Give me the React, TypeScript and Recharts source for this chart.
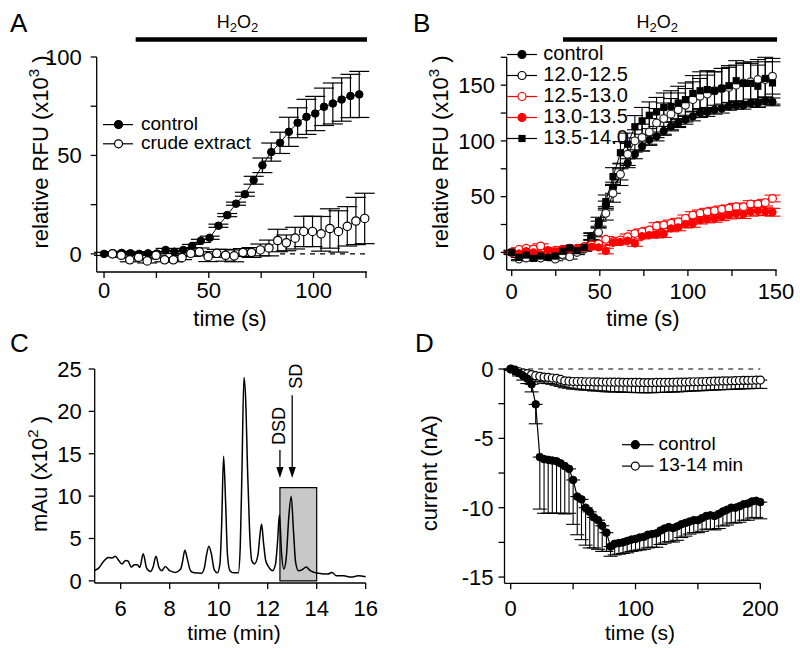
import React from "react";
import { ComposedChart, Line, XAxis, YAxis, ErrorBar, ReferenceLine, ReferenceArea, Legend } from "recharts";

const FONT = "'Liberation Sans', Arial, Helvetica, sans-serif";
const RED = "#ff0000";

// ---------- A: RFU, control vs crude extract
const aCtrlTime = [0, 4.2, 8.4, 12.6, 16.8, 21, 25.2, 29.4, 33.6, 37.8, 42, 46.2, 50.4, 54.6, 58.8, 63, 67.2, 71.4, 75.6, 79.8, 84, 88.2, 92.4, 96.6, 100.8, 105, 109.2, 113.4, 117.6, 121.8];
const aCtrlRfu = [0, 0.3, 0.5, 0.3, 0, 0.3, 0.2, 2, 1, 2, 4, 6.6, 8.2, 14.3, 19.7, 25.5, 30.3, 37.4, 45, 51.7, 56.4, 62, 66.6, 69.6, 71.3, 74.7, 76.4, 78.4, 80.2, 81];
const aCtrlSem = [0.8, 0.8, 0.8, 0.8, 0.8, 0.8, 0.8, 0.8, 0.8, 0.8, 0.8, 0.8, 0.8, 0.8, 0.8, 0.8, 1, 2, 3.7, 4.6, 5.4, 7.4, 7.6, 8.9, 8.7, 9.5, 10.4, 11, 11, 11.7];
const aCrudeTime = [4, 8.2, 12.3, 16.5, 20.6, 24.8, 28.9, 33.1, 37.2, 41.4, 45.5, 49.7, 53.8, 58, 62.1, 66.3, 70.4, 74.6, 78.7, 82.9, 87, 91.2, 95.3, 99.5, 103.6, 107.8, 111.9, 116.1, 120.2, 124.4];
const aCrudeRfu = [0, -0.7, -3, -1.7, -3.6, -0.7, -3, -3, -1.9, 0.3, 1, -1.4, 0.3, -0.7, -1, 0.7, 0.7, 2, 3, 6.8, 5.6, 8, 11.4, 11.4, 10.2, 12.9, 11.4, 14, 16.7, 18];
const aCrudeSem = [1, 1, 1, 1, 1, 1, 1, 1, 1, 1.5, 2, 2.5, 2, 3, 3, 2, 2.5, 3, 4, 5.7, 4, 5.5, 7.7, 7.7, 8.8, 10, 10.5, 10, 12, 12.8];
const aXTicks = [0, 25, 50, 75, 100, 125];
const aXLabels = [0, 50, 100];
const aYTicks = [0, 25, 50, 75, 100];
const aYLabels = [0, 50, 100];
const aH2O2 = [15.1, 125.5];
const aH2O2Level = 108.9;

// ---------- B: RFU for HPLC fractions
const bTime = [0, 4.1, 8.2, 12.3, 16.4, 20.6, 24.7, 28.8, 32.9, 37, 41.1, 45.2, 49.3, 53.4, 57.5, 61.7, 65.8, 69.9, 74, 78.1, 82.2, 86.3, 90.4, 94.5, 98.6, 102.8, 106.9, 111, 115.1, 119.2, 123.3, 127.4, 131.5, 135.6, 139.7, 143.9, 148];
const bControl = [0, -2, -3, -1, -4, -2, -3, -1, 2, 2, 4, 13, 25, 42, 58, 70, 80, 88, 95, 101, 104, 109, 113, 116, 119, 122, 125, 126, 128, 129, 131, 132, 132, 134, 134, 136, 135];
const bControlSem = [1, 1, 1, 1, 1, 1, 1, 1, 1.5, 1.5, 2, 2, 3, 4, 5, 5, 4, 4, 4, 4, 4, 4, 4, 4, 4, 4, 4, 4, 4, 4, 3.5, 3.5, 3.5, 3.5, 3.5, 3.5, 3.5];
const bF120 = [0, -6, -5, -4, -5, -3, -6, -2, -4, 0, 3, 14, 18, 35, 53, 70, 88, 100, 103, 108, 116, 120, 124, 128, 132, 137, 140, 142, 145, 147, 148, 150, 152, 153, 155, 155, 158];
const bF120Sem = [1.5, 1.5, 1.5, 1.5, 1.5, 1.5, 1.5, 1.5, 2, 2, 2, 3, 4, 6, 8, 10, 10, 10, 12, 12, 13, 14, 14, 15, 15, 16, 16, 17, 17, 18, 18, 18, 18, 18, 18, 16, 16];
const bF125 = [0, 2.7, 3.6, 3, 5.7, 0.6, 2, 2.7, 3.6, 3.6, 5, 6.6, 7.5, 11.7, 9.6, 11, 14, 17, 18.5, 20, 23.6, 24.5, 26, 27.5, 30.5, 33.5, 35, 36.5, 37.4, 38.6, 39.5, 41, 41, 43.4, 43.4, 44.6, 48.4];
const bF125Sem = [1.5, 1.5, 2, 2, 2, 2, 2, 2, 2, 2, 2, 2, 2, 2.5, 2.5, 2.5, 2.5, 2.5, 2.5, 2.5, 3, 3, 3, 3, 3, 3, 3, 3, 3, 3, 3, 3, 3, 3, 3, 3, 3];
const bF130 = [0, -1, 1, 0, -2, 2, 1, 3, 3, 3, 4, 5, 4.5, 1.2, 8.7, 9.3, 10.5, 8, 14.6, 15.5, 16, 16.4, 21.5, 22.4, 25.4, 26, 29, 30, 30.5, 32, 33.5, 35, 34.4, 36.5, 37.4, 36.5, 36];
const bF130Sem = [1.5, 1.5, 2, 2, 2, 2, 2, 2, 2, 2, 2, 2, 2, 2.5, 2.5, 2.5, 2.5, 2.5, 2.5, 2.5, 3, 3, 3, 3, 3.5, 3.5, 3.5, 3.5, 3.5, 3.5, 3.5, 4, 4, 4, 4, 3.5, 3.5];
const bF135 = [0, -4.5, -2.4, -5.4, -3.3, -4.5, -3.3, 1, 4, 1.5, 4.5, 14.6, 27.5, 45.5, 68, 89.4, 97, 112.7, 118, 123, 126, 130, 131, 134, 137, 142.6, 145, 146, 145, 147, 149.5, 154, 151.6, 151.6, 149, 156, 152];
const bF135Sem = [2, 2, 2, 2, 2, 2, 2, 2, 2, 2, 2, 3, 4, 6, 8, 10, 10, 10, 12, 12, 13, 13, 14, 15, 15, 16, 17, 17, 17, 18, 18, 18, 18, 18, 19, 19, 19];
const bXTicks = [0, 25, 50, 75, 100, 125, 150];
const bXLabels = [0, 50, 100, 150];
const bYTicks = [0, 25, 50, 75, 100, 125, 150, 175];
const bYLabels = [0, 50, 100, 150];
const bH2O2 = [29.1, 150.6];
const bH2O2Level = 190.9;

// ---------- C: chromatogram
const cTime = [4.95, 5.1, 5.3, 5.5, 5.65, 5.78, 5.92, 6.05, 6.2, 6.3, 6.43, 6.57, 6.68, 6.78, 6.92, 7.06, 7.22, 7.32, 7.44, 7.56, 7.68, 7.82, 8, 8.23, 8.45, 8.52, 8.62, 8.72, 8.85, 9, 9.3, 9.42, 9.5, 9.6, 9.7, 9.82, 9.95, 10.05, 10.12, 10.2, 10.28, 10.36, 10.46, 10.6, 10.8, 10.88, 10.95, 11.03, 11.1, 11.18, 11.26, 11.35, 11.46, 11.6, 11.67, 11.75, 11.83, 11.92, 12.05, 12.2, 12.32, 12.4, 12.48, 12.56, 12.66, 12.76, 12.86, 12.96, 13.05, 13.14, 13.25, 13.4, 13.57, 13.74, 13.9, 14.2, 14.45, 14.63, 14.8, 15.1, 15.4, 15.7, 16];
const cAbs = [1.25, 1.5, 2.3, 2.75, 2.7, 2.9, 2.4, 2, 2.4, 2.35, 1.65, 1.9, 1.9, 1.6, 3.2, 1.5, 1.1, 1.6, 2.9, 1.6, 1.2, 1.7, 1.2, 1, 1.4, 2.2, 3.6, 2.6, 1.2, 0.95, 0.9, 1.6, 3, 4.1, 3.2, 1.3, 0.95, 2, 6.5, 14.7, 9.5, 3, 1.2, 0.95, 0.95, 4, 13, 24, 21.5, 13, 6, 2.4, 2, 3, 5, 6.7, 4.5, 2.4, 1.6, 1.2, 2, 4.5, 7.8, 3.5, 1.4, 2.8, 7.5, 10, 6, 2.2, 1.2, 1.3, 1.65, 1.2, 1, 0.85, 0.8, 1, 0.6, 0.6, 0.45, 0.6, 0.5];
const cXTicks = [6, 8, 10, 12, 14, 16];
const cYTicks = [0, 5, 10, 15, 20, 25];
const cFraction = [12.5, 14];
const cFractionTop = 11;
const cArrows = [
  { name: "DSD", x: 12.5, from: 15.45, to: 12.15, shift: 5, gap: 24 },
  { name: "SD", x: 13, from: 21.9, to: 12.15, shift: 10, gap: 19 },
];

// ---------- D: current
const dTime = [0, 3.3, 6.7, 10, 13.3, 16.7, 20, 23.3, 26.7, 30, 33.3, 36.7, 40, 43.3, 46.7, 50, 53.3, 56.7, 60, 63.3, 66.7, 70, 73.3, 76.7, 80, 83.3, 86.7, 90, 93.3, 96.7, 100, 103.3, 106.7, 110, 113.3, 116.7, 120, 123.3, 126.7, 130, 133.3, 136.7, 140, 143.3, 146.7, 150, 153.3, 156.7, 160, 163.3, 166.7, 170, 173.3, 176.7, 180, 183.3, 186.7, 190, 193.3, 196.7, 200];
const dControl = [0, -0.1, -0.3, -0.5, -0.7, -1.1, -2.55, -6.35, -6.5, -6.55, -6.6, -6.65, -6.8, -7, -7.2, -8, -9.2, -9.4, -10, -10.3, -10.7, -10.9, -11.3, -11.8, -12.8,
  -12.6, -12.55, -12.5, -12.4, -12.3, -12.25, -12.15, -12.1, -11.95, -11.9, -11.85, -11.65, -11.5, -11.4, -11.47, -11.35, -11.2, -11.1, -11, -10.9, -10.9, -10.75, -10.6, -10.55, -10.6, -10.45, -10.27, -10.15, -10, -10, -9.9, -9.75, -9.7, -9.55, -9.5, -9.6];
const dControlSem = [0.05, 0.1, 0.2, 0.3, 0.35, 0.55, 1.4, 3.75, 3.9, 3.85, 3.8, 3.75, 3.6, 3.45, 3.2, 3.2, 2.75, 2.9, 2.7, 2.6, 2.2, 2.1, 1.85, 1.35, 0.7,
  0.8, 0.8, 0.8, 0.85, 0.85, 0.85, 0.9, 0.9, 0.95, 0.95, 1, 1, 1.05, 1.05, 1, 1, 0.95, 0.95, 0.9, 0.9, 0.9, 0.95, 0.95, 1, 1, 1.05, 1.05, 1.1, 1.1, 1.1, 1.15, 1.15, 1.2, 1.2, 1.2, 1.2];
const dFraction = [0, -0.08, -0.2, -0.28, -0.33, -0.4, -0.48, -0.53, -0.58, -0.6, -0.65, -0.67, -0.75, -0.85, -0.88, -0.9, -0.9,
  -0.9, -0.92, -0.92, -0.93, -0.93, -0.94, -0.94, -0.95, -0.95, -0.95, -0.96, -0.96, -0.97, -0.97, -0.97, -0.98, -0.98, -0.98, -0.97, -0.97, -0.97, -0.96, -0.96, -0.95,
  -0.95, -0.94, -0.93, -0.92, -0.92, -0.91, -0.9, -0.89, -0.88, -0.87, -0.86, -0.86, -0.85, -0.84, -0.83, -0.82, -0.82, -0.81, -0.8, -0.8];
const dFractionSem = [0.1, 0.15, 0.2, 0.25, 0.3, 0.35, 0.4, 0.4, 0.45, 0.45, 0.45, 0.5, 0.5,
  0.5, 0.5, 0.55, 0.55, 0.6, 0.6, 0.6, 0.65, 0.65, 0.65, 0.7, 0.7, 0.7, 0.7, 0.72, 0.72, 0.72, 0.73, 0.73, 0.73, 0.73, 0.73, 0.72, 0.72, 0.72, 0.7, 0.7, 0.7, 0.68, 0.68,
  0.66, 0.66, 0.65, 0.65, 0.64, 0.64, 0.63, 0.63, 0.62, 0.62, 0.62, 0.61, 0.61, 0.6, 0.6, 0.6, 0.6, 0.6];
const dXTicks = [0, 50, 100, 150, 200];
const dXLabels = [0, 100, 200];
const dYTicks = [-15, -12.5, -10, -7.5, -5, -2.5, 0];
const dYLabels = [-15, -10, -5, 0];

// tables for recharts
const sym = (xs: number[], ys: number[], es: number[]) => xs.map((x, i) => ({ x, y: ys[i], e: es[i] }));
const down = (xs: number[], ys: number[], es: number[]) => xs.map((x, i) => ({ x, y: ys[i], e: [es[i], 0] }));

const aCtrl = sym(aCtrlTime, aCtrlRfu, aCtrlSem);
const aCrude = sym(aCrudeTime, aCrudeRfu, aCrudeSem);
const bCtrlData = sym(bTime, bControl, bControlSem);
const b120Data = sym(bTime, bF120, bF120Sem);
const b125Data = sym(bTime, bF125, bF125Sem);
const b130Data = sym(bTime, bF130, bF130Sem);
const b135Data = sym(bTime, bF135, bF135Sem);
const cTrace = cTime.map((x, i) => ({ x, y: cAbs[i] }));
const dCtrlData = down(dTime, dControl, dControlSem);
const dFracData = down(dTime, dFraction, dFractionSem);

const only = (labels: number[]) => (v: number) => (labels.includes(v) ? String(v) : "");

const ax = {
  stroke: "#000",
  tick: { fill: "#000", fontSize: 22, fontFamily: FONT },
  tickLine: { stroke: "#000", strokeWidth: 1.3 },
  axisLine: { stroke: "#000", strokeWidth: 1.3 },
  tickSize: 6,
  interval: 0 as const,
};

const filled = (c: string, r: number) => ({ r, fill: c, stroke: c, strokeWidth: 1 });
const open = (c: string, r: number) => ({ r, fill: "#fff", stroke: c, strokeWidth: 1.2 });
const square = (p: any) => (
  <rect key={`sq-${p.index}`} x={p.cx - 3.6} y={p.cy - 3.6} width={7.2} height={7.2} fill="#000" />
);

const h2o2Shape = (p: any) => {
  const tx = p.x1 + (p.x2 - p.x1) * 0.44;
  return (
    <g>
      <line x1={p.x1} y1={p.y1} x2={p.x2} y2={p.y2} stroke="#000" strokeWidth={4.5} />
      <text x={tx} y={p.y1 - 11.5} textAnchor="middle" fontSize={18} fontFamily={FONT} fill="#000">
        H<tspan fontSize={13} dy={4}>2</tspan>
        <tspan dy={-4}>O</tspan>
        <tspan fontSize={13} dy={4}>2</tspan>
      </text>
    </g>
  );
};

const arrowShape = (label: string, shift: number, gap: number) => (p: any) => {
  const tx = p.x1 + shift;
  const ty = p.y1 - gap;
  return (
    <g>
      <line x1={p.x1} y1={p.y1} x2={p.x2} y2={p.y2 - 10} stroke="#000" strokeWidth={1.3} />
      <polygon points={`${p.x2},${p.y2} ${p.x2 - 3.6},${p.y2 - 11} ${p.x2 + 3.6},${p.y2 - 11}`} fill="#000" />
      <text x={tx} y={ty} transform={`rotate(-90 ${tx} ${ty})`} textAnchor="middle" fontSize={18} fontFamily={FONT} fill="#000">
        {label}
      </text>
    </g>
  );
};

type Key = { label: string; color: string; kind: "dot" | "ring" | "square" };

function LegendKeys({ keys, rowH, lineW, markX, textX, fontSize }: { keys: Key[]; rowH: number; lineW: number; markX: number; textX: number; fontSize: number }) {
  return (
    <svg width={textX + 130} height={keys.length * rowH} style={{ display: "block", overflow: "visible" }}>
      {keys.map((k, i) => {
        const cy = i * rowH + rowH / 2;
        return (
          <g key={k.label}>
            <line x1={0} x2={lineW} y1={cy} y2={cy} stroke={k.color} strokeWidth={1.2} />
            {k.kind === "square" ? (
              <rect x={markX - 3.6} y={cy - 3.6} width={7.2} height={7.2} fill={k.color} />
            ) : (
              <circle cx={markX} cy={cy} r={4} fill={k.kind === "dot" ? k.color : "#fff"} stroke={k.color} strokeWidth={1.2} />
            )}
            <text x={textX} y={cy + fontSize * 0.27} fontSize={fontSize} fontFamily={FONT} fill="#000">
              {k.label}
            </text>
          </g>
        );
      })}
    </svg>
  );
}

function Titles({ letter, lx, ly, yTitle, yx, yy, xTitle, xx, xy, xSize = 22 }: any) {
  return (
    <svg width={400} height={326} style={{ position: "absolute", left: 0, top: 0, overflow: "visible", pointerEvents: "none" }}>
      <text x={lx} y={ly} fontSize={26} fontFamily={FONT} fill="#000">{letter}</text>
      <text x={yx} y={yy} transform={`rotate(-90 ${yx} ${yy})`} textAnchor="middle" fontSize={22} fontFamily={FONT} fill="#000">
        {yTitle}
      </text>
      <text x={xx} y={xy} textAnchor="middle" fontSize={xSize} fontFamily={FONT} fill="#000">{xTitle}</text>
    </svg>
  );
}

const rfuTitle = (
  <>
    relative RFU (x10<tspan fontSize={15} dy={-9}>3</tspan>
    <tspan dy={9}> )</tspan>
  </>
);

function PanelA() {
  return (
    <div style={{ position: "absolute", left: 0, top: 0, width: 400, height: 325 }}>
      <ComposedChart width={400} height={325} margin={{ top: 57, right: 33, bottom: 23, left: 56.7 }}>
        <XAxis type="number" dataKey="x" domain={[-3.5, 125.5]} ticks={aXTicks} tickFormatter={only(aXLabels)} height={30} tickMargin={4} {...ax} />
        <YAxis type="number" domain={[-9.2, 100]} ticks={aYTicks} tickFormatter={only(aYLabels)} width={40} tickMargin={9} {...ax} />
        <ReferenceLine segment={[{ x: 84, y: 0 }, { x: 125, y: 0 }]} stroke="#000" strokeWidth={1.2} strokeDasharray="5 5" ifOverflow="visible" />
        <ReferenceLine segment={[{ x: aH2O2[0], y: aH2O2Level }, { x: aH2O2[1], y: aH2O2Level }]} ifOverflow="visible" shape={h2o2Shape} />
        <Line data={aCtrl} dataKey="y" type="linear" stroke="#000" strokeWidth={1} dot={filled("#000", 3.8)} activeDot={false} isAnimationActive={false}>
          <ErrorBar dataKey="e" width={10} stroke="#000" strokeWidth={1.2} isAnimationActive={false} />
        </Line>
        <Line data={aCrude} dataKey="y" type="linear" stroke="#000" strokeWidth={1} dot={open("#000", 4.2)} activeDot={false} isAnimationActive={false}>
          <ErrorBar dataKey="e" width={10} stroke="#000" strokeWidth={1.2} isAnimationActive={false} />
        </Line>
        <Legend
          layout="vertical"
          align="center"
          verticalAlign="middle"
          wrapperStyle={{ left: 103, top: 114.9, width: 200, height: 40 }}
          content={() => (
            <LegendKeys
              keys={[
                { label: "control", color: "#000", kind: "dot" },
                { label: "crude extract", color: "#000", kind: "ring" },
              ]}
              rowH={19.2}
              lineW={30}
              markX={15.5}
              textX={38}
              fontSize={19}
            />
          )}
        />
      </ComposedChart>
      <Titles letter="A" lx={10} ly={31.7} yTitle={rfuTitle} yx={48.2} yy={152} xTitle="time (s)" xx={230} xy={326} />
    </div>
  );
}

function PanelB() {
  return (
    <div style={{ position: "absolute", left: 400, top: 0, width: 400, height: 325 }}>
      <ComposedChart width={400} height={325} margin={{ top: 57.3, right: 23.3, bottom: 25, left: 66.7 }}>
        <XAxis type="number" dataKey="x" domain={[-2.85, 150.4]} ticks={bXTicks} tickFormatter={only(bXLabels)} height={30} tickMargin={7.7} {...ax} />
        <YAxis type="number" domain={[-15.8, 175]} ticks={bYTicks} tickFormatter={only(bYLabels)} width={40} tickMargin={5.7} {...ax} />
        <ReferenceLine segment={[{ x: bH2O2[0], y: bH2O2Level }, { x: bH2O2[1], y: bH2O2Level }]} ifOverflow="visible" shape={h2o2Shape} />
        <Line data={bCtrlData} dataKey="y" type="linear" stroke="#000" strokeWidth={1} dot={filled("#000", 3.7)} activeDot={false} isAnimationActive={false}>
          <ErrorBar dataKey="e" width={8} stroke="#000" strokeWidth={1.1} isAnimationActive={false} />
        </Line>
        <Line data={b120Data} dataKey="y" type="linear" stroke="#000" strokeWidth={1} dot={open("#222", 3.9)} activeDot={false} isAnimationActive={false}>
          <ErrorBar dataKey="e" width={8} stroke="#000" strokeWidth={1.1} isAnimationActive={false} />
        </Line>
        <Line data={b125Data} dataKey="y" type="linear" stroke={RED} strokeWidth={1} dot={open(RED, 3.9)} activeDot={false} isAnimationActive={false}>
          <ErrorBar dataKey="e" width={8} stroke={RED} strokeWidth={1.1} isAnimationActive={false} />
        </Line>
        <Line data={b130Data} dataKey="y" type="linear" stroke={RED} strokeWidth={1} dot={filled(RED, 3.7)} activeDot={false} isAnimationActive={false}>
          <ErrorBar dataKey="e" width={8} stroke={RED} strokeWidth={1.1} isAnimationActive={false} />
        </Line>
        <Line data={b135Data} dataKey="y" type="linear" stroke="#000" strokeWidth={1} dot={square} activeDot={false} isAnimationActive={false}>
          <ErrorBar dataKey="e" width={8} stroke="#000" strokeWidth={1.1} isAnimationActive={false} />
        </Line>
        <Legend
          layout="vertical"
          align="center"
          verticalAlign="middle"
          wrapperStyle={{ left: 106.7, top: 43.5, width: 200, height: 105 }}
          content={() => (
            <LegendKeys
              keys={[
                { label: "control", color: "#000", kind: "dot" },
                { label: "12.0-12.5", color: "#000", kind: "ring" },
                { label: "12.5-13.0", color: RED, kind: "ring" },
                { label: "13.0-13.5", color: RED, kind: "dot" },
                { label: "13.5-14.0", color: "#000", kind: "square" },
              ]}
              rowH={21}
              lineW={30}
              markX={15}
              textX={36.3}
              fontSize={20}
            />
          )}
        />
      </ComposedChart>
      <Titles letter="B" lx={13} ly={31.7} yTitle={rfuTitle} yx={48.2} yy={152} xTitle="time (s)" xx={243} xy={326} />
    </div>
  );
}

function PanelC() {
  return (
    <div style={{ position: "absolute", left: 0, top: 325, width: 400, height: 326 }}>
      <ComposedChart width={400} height={326} margin={{ top: 44, right: 34.3, bottom: 38, left: 54.7 }}>
        <XAxis type="number" dataKey="x" domain={[4.94, 16]} ticks={cXTicks} height={30} tickMargin={11} {...ax} />
        <YAxis type="number" domain={[-0.25, 25]} ticks={cYTicks} width={40} tickMargin={7} {...ax} />
        <ReferenceArea x1={cFraction[0]} x2={cFraction[1]} y1={0} y2={cFractionTop} fill="#c8c8c8" fillOpacity={1} stroke="#000" strokeWidth={1.2} />
        <Line data={cTrace} dataKey="y" type="monotone" stroke="#000" strokeWidth={1.5} dot={false} activeDot={false} isAnimationActive={false} />
        {cArrows.map((a) => (
          <ReferenceLine
            key={a.name}
            segment={[{ x: a.x, y: a.from }, { x: a.x, y: a.to }]}
            ifOverflow="visible"
            shape={arrowShape(a.name, a.shift, a.gap)}
          />
        ))}
      </ComposedChart>
      <Titles
        letter="C"
        lx={10}
        ly={26.7}
        yTitle={
          <>
            mAu (x10<tspan fontSize={15} dy={-9}>2</tspan>
            <tspan dy={9}> )</tspan>
          </>
        }
        yx={46.7}
        yy={149}
        xTitle="time (min)"
        xx={234}
        xy={314.5}
        xSize={21}
      />
    </div>
  );
}

function PanelD() {
  return (
    <div style={{ position: "absolute", left: 400, top: 325, width: 400, height: 326 }}>
      <ComposedChart width={400} height={326} margin={{ top: 44, right: 39.7, bottom: 37.7, left: 64.5 }}>
        <XAxis type="number" dataKey="x" domain={[-5, 200]} ticks={dXTicks} tickFormatter={only(dXLabels)} height={30} tickMargin={11.5} {...ax} />
        <YAxis type="number" domain={[-15.45, 0]} ticks={dYTicks} tickFormatter={only(dYLabels)} width={40} tickMargin={5} {...ax} />
        <ReferenceLine segment={[{ x: 14, y: 0 }, { x: 200, y: 0 }]} stroke="#000" strokeWidth={1.2} strokeDasharray="5 5" ifOverflow="visible" />
        <Line data={dFracData} dataKey="y" type="linear" stroke="#000" strokeWidth={1} dot={open("#000", 4)} activeDot={false} isAnimationActive={false}>
          <ErrorBar dataKey="e" width={7} stroke="#000" strokeWidth={1.1} isAnimationActive={false} />
        </Line>
        <Line data={dCtrlData} dataKey="y" type="linear" stroke="#000" strokeWidth={1.2} dot={filled("#000", 3.8)} activeDot={false} isAnimationActive={false}>
          <ErrorBar dataKey="e" width={7} stroke="#000" strokeWidth={1.1} isAnimationActive={false} />
        </Line>
        <Legend
          layout="vertical"
          align="center"
          verticalAlign="middle"
          wrapperStyle={{ left: 221.7, top: 108.6, width: 170, height: 43 }}
          content={() => (
            <LegendKeys
              keys={[
                { label: "control", color: "#000", kind: "dot" },
                { label: "13-14 min", color: "#000", kind: "ring" },
              ]}
              rowH={21.4}
              lineW={31.6}
              markX={13.3}
              textX={36.6}
              fontSize={19}
            />
          )}
        />
      </ComposedChart>
      <Titles letter="D" lx={15} ly={26.7} yTitle="current (nA)" yx={37.4} yy={148.3} xTitle="time (s)" xx={240} xy={315} xSize={21} />
    </div>
  );
}

export default function App() {
  return (
    <div style={{ position: "absolute", left: 0, top: 0, width: 800, height: 651, background: "#fff", fontFamily: FONT, overflow: "hidden" }}>
      <PanelA />
      <PanelB />
      <PanelC />
      <PanelD />
    </div>
  );
}
